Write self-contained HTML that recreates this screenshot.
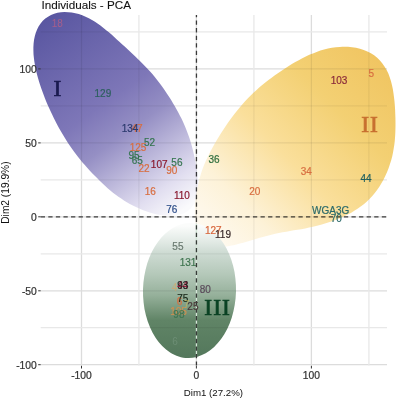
<!DOCTYPE html>
<html><head><meta charset="utf-8"><style>
html,body{margin:0;padding:0;background:#fff;overflow:hidden;}
svg{display:block;will-change:transform;}
</style></head><body>
<svg width="397" height="399" viewBox="0 0 397 399">
<defs>
<linearGradient id="g1" gradientUnits="userSpaceOnUse" x1="44" y1="14.4" x2="183.3" y2="209.6">
<stop offset="0" stop-color="#5855a0"/>
<stop offset="0.45" stop-color="#7e77b8"/>
<stop offset="0.6" stop-color="#958fc4"/>
<stop offset="0.88" stop-color="#e1def0"/>
<stop offset="1" stop-color="#fafafc"/>
</linearGradient>
<linearGradient id="g2" gradientUnits="userSpaceOnUse" x1="390" y1="60" x2="205" y2="240">
<stop offset="0" stop-color="#f0c460"/>
<stop offset="0.28" stop-color="#f3d073"/>
<stop offset="0.55" stop-color="#fadf9b"/>
<stop offset="0.8" stop-color="#fdf2d8"/><stop offset="0.92" stop-color="#fef7e8"/>
<stop offset="1" stop-color="#fffbf3"/>
</linearGradient>
<linearGradient id="g3" gradientUnits="userSpaceOnUse" x1="0" y1="226" x2="0" y2="357">
<stop offset="0" stop-color="#fbfcfb"/><stop offset="0.06" stop-color="#eef3f0"/>
<stop offset="0.12" stop-color="#e2eae5"/><stop offset="0.2" stop-color="#cfdcd4"/>
<stop offset="0.37" stop-color="#b4c8b9"/>
<stop offset="0.53" stop-color="#95b09a"/>
<stop offset="0.72" stop-color="#608466"/>
<stop offset="1" stop-color="#54785c"/>
</linearGradient>
</defs>
<clipPath id="cg"><path d="M187.7,358.0C184.7,357.9 181.6,357.4 178.7,356.4C175.8,355.5 172.8,354.1 170.1,352.4C167.3,350.6 164.7,348.4 162.2,345.9C159.8,343.4 157.4,340.5 155.4,337.4C153.3,334.2 151.5,330.7 149.9,327.0C148.3,323.3 146.9,319.3 145.9,315.2C144.8,311.1 144.0,306.8 143.6,302.5C143.1,298.2 142.9,293.7 143.0,289.3C143.1,284.9 143.6,280.4 144.3,276.1C145.0,271.9 146.0,267.6 147.2,263.6C148.5,259.5 150.1,255.6 151.8,252.0C153.6,248.4 155.7,245.0 157.9,241.9C160.1,238.9 162.6,236.1 165.1,233.7C167.7,231.3 170.5,229.3 173.3,227.7C176.2,226.1 179.2,224.9 182.2,224.1C185.2,223.3 188.2,222.9 191.3,223.0C194.3,223.1 197.4,223.6 200.3,224.6C203.2,225.5 206.2,226.9 208.9,228.6C211.7,230.4 214.3,232.6 216.8,235.1C219.2,237.6 221.6,240.5 223.6,243.6C225.7,246.8 227.5,250.3 229.1,254.0C230.7,257.7 232.1,261.7 233.1,265.8C234.2,269.9 235.0,274.2 235.4,278.5C235.9,282.8 236.1,287.3 236.0,291.7C235.9,296.1 235.4,300.6 234.7,304.9C234.0,309.1 233.0,313.4 231.8,317.4C230.5,321.5 228.9,325.4 227.2,329.0C225.4,332.6 223.3,336.0 221.1,339.1C218.9,342.1 216.4,344.9 213.9,347.3C211.3,349.7 208.5,351.7 205.7,353.3C202.8,354.9 199.8,356.1 196.8,356.9C193.8,357.7 190.8,358.1 187.7,358.0Z"/></clipPath>
<clipPath id="call"><path d="M57.5,12.7C59.8,12.2 62.2,12.0 64.6,11.9C66.9,11.9 69.4,12.1 71.8,12.5C74.1,12.8 76.5,13.4 78.8,14.1C81.2,14.8 83.4,15.7 85.6,16.7C87.8,17.7 89.9,18.8 92.0,20.0C94.0,21.1 96.0,22.4 97.9,23.8C99.8,25.1 101.7,26.5 103.5,27.9C105.3,29.4 107.1,30.8 108.9,32.3C110.7,33.8 112.4,35.4 114.2,36.9C115.9,38.5 117.7,40.1 119.4,41.7C121.2,43.3 122.9,44.9 124.7,46.5C126.5,48.2 128.2,49.8 130.0,51.5C131.8,53.1 133.5,54.8 135.3,56.4C137.0,58.1 138.7,59.8 140.4,61.4C142.1,63.1 143.7,64.8 145.3,66.5C147.0,68.2 148.5,69.9 150.1,71.6C151.6,73.3 153.1,75.0 154.6,76.8C156.0,78.6 157.5,80.4 158.9,82.2C160.3,84.0 161.7,85.9 163.0,87.8C164.4,89.7 165.7,91.7 167.0,93.7C168.4,95.6 169.7,97.7 171.0,99.7C172.2,101.8 173.5,103.9 174.7,106.0C175.9,108.1 177.1,110.3 178.3,112.4C179.4,114.5 180.5,116.7 181.6,118.8C182.6,121.0 183.6,123.1 184.5,125.3C185.5,127.4 186.3,129.5 187.1,131.7C188.0,133.8 188.7,135.9 189.4,138.1C190.1,140.2 190.8,142.3 191.4,144.5C192.0,146.7 192.6,148.9 193.1,151.1C193.7,153.4 194.2,155.7 194.7,158.0C195.2,160.3 195.6,162.7 196.0,165.2C196.5,167.6 196.8,170.1 197.1,172.6C197.4,175.1 197.7,177.7 197.8,180.2C198.0,182.7 198.0,185.3 197.9,187.7C197.8,190.2 197.5,192.6 197.1,194.9C196.6,197.2 196.0,199.4 195.2,201.3C194.4,203.3 193.3,205.2 192.1,206.8C190.8,208.4 189.4,209.9 187.7,211.0C186.1,212.2 184.2,213.2 182.1,213.9C180.1,214.7 177.9,215.2 175.6,215.5C173.3,215.8 170.9,215.8 168.4,215.8C165.9,215.7 163.4,215.4 160.9,215.0C158.4,214.6 155.8,214.0 153.3,213.4C150.9,212.8 148.4,212.0 146.1,211.2C143.7,210.4 141.4,209.5 139.2,208.5C137.0,207.6 134.9,206.6 132.8,205.5C130.8,204.5 128.8,203.4 126.8,202.2C124.9,201.1 123.0,199.9 121.2,198.6C119.3,197.4 117.5,196.0 115.7,194.7C113.9,193.3 112.1,191.9 110.3,190.4C108.5,188.9 106.7,187.3 105.0,185.7C103.2,184.1 101.4,182.4 99.7,180.7C97.9,179.1 96.2,177.3 94.5,175.6C92.8,173.8 91.1,172.0 89.4,170.2C87.8,168.4 86.2,166.6 84.6,164.8C83.0,163.0 81.5,161.2 80.1,159.4C78.6,157.6 77.2,155.8 75.8,154.0C74.4,152.2 73.1,150.4 71.8,148.5C70.5,146.6 69.2,144.8 68.0,142.9C66.7,141.0 65.5,139.0 64.3,137.1C63.1,135.1 61.9,133.1 60.7,131.0C59.5,129.0 58.4,126.8 57.2,124.7C56.1,122.6 55.0,120.4 53.9,118.2C52.8,116.0 51.7,113.8 50.7,111.6C49.7,109.4 48.7,107.2 47.7,105.0C46.8,102.8 45.8,100.6 45.0,98.4C44.1,96.2 43.3,94.0 42.5,91.8C41.7,89.7 40.9,87.5 40.2,85.3C39.5,83.1 38.8,81.0 38.2,78.8C37.6,76.6 37.0,74.4 36.4,72.1C35.9,69.9 35.4,67.6 35.0,65.2C34.5,62.9 34.1,60.5 33.9,58.1C33.6,55.7 33.4,53.2 33.4,50.8C33.3,48.3 33.4,45.8 33.6,43.4C33.8,41.0 34.2,38.5 34.8,36.2C35.4,33.8 36.1,31.5 37.1,29.4C38.1,27.3 39.2,25.3 40.6,23.5C42.0,21.6 43.5,20.0 45.3,18.6C47.0,17.1 49.0,15.9 51.0,14.9C53.0,14.0 55.3,13.2 57.5,12.7Z"/><path d="M339.9,46.9C342.6,46.7 345.3,46.7 348.0,46.8C350.7,47.0 353.4,47.3 356.0,47.8C358.7,48.3 361.3,49.0 363.7,49.9C366.2,50.8 368.6,51.9 370.9,53.2C373.1,54.5 375.2,56.0 377.2,57.7C379.1,59.4 380.9,61.3 382.4,63.4C384.0,65.4 385.4,67.7 386.6,70.0C387.9,72.3 388.9,74.9 389.8,77.4C390.7,79.9 391.4,82.6 392.0,85.3C392.7,88.0 393.1,90.7 393.5,93.4C393.9,96.1 394.2,98.9 394.5,101.6C394.8,104.3 394.9,106.9 395.1,109.6C395.2,112.3 395.3,114.9 395.4,117.5C395.5,120.1 395.5,122.7 395.5,125.3C395.5,127.8 395.4,130.4 395.3,133.0C395.2,135.6 395.0,138.1 394.8,140.7C394.5,143.3 394.2,145.9 393.7,148.5C393.3,151.1 392.8,153.8 392.2,156.4C391.5,159.0 390.8,161.7 389.9,164.3C389.1,166.9 388.1,169.5 387.1,172.0C386.0,174.5 384.8,177.1 383.6,179.5C382.3,181.9 380.9,184.2 379.5,186.5C378.0,188.7 376.5,190.9 374.8,193.0C373.2,195.0 371.5,196.9 369.7,198.8C367.9,200.6 366.0,202.4 364.1,204.0C362.1,205.6 360.0,207.1 357.9,208.6C355.8,210.0 353.6,211.4 351.3,212.7C349.0,213.9 346.6,215.1 344.2,216.3C341.8,217.4 339.3,218.5 336.7,219.5C334.2,220.5 331.5,221.4 328.9,222.3C326.3,223.1 323.6,223.9 321.0,224.7C318.3,225.4 315.7,226.1 313.0,226.7C310.4,227.3 307.8,227.8 305.2,228.4C302.6,228.9 300.1,229.3 297.5,229.8C295.0,230.2 292.5,230.6 290.0,231.0C287.6,231.5 285.1,231.9 282.6,232.3C280.2,232.8 277.7,233.3 275.2,233.8C272.7,234.4 270.2,235.0 267.6,235.7C265.1,236.3 262.5,237.1 259.8,237.8C257.1,238.6 254.4,239.4 251.6,240.3C248.8,241.1 246.0,242.0 243.2,242.8C240.4,243.5 237.5,244.3 234.7,244.9C231.9,245.5 229.0,246.1 226.4,246.4C223.7,246.7 221.0,246.9 218.6,246.7C216.1,246.6 213.7,246.3 211.6,245.6C209.5,244.9 207.5,244.0 205.7,242.8C204.0,241.6 202.5,240.0 201.1,238.2C199.8,236.5 198.7,234.4 197.9,232.1C197.0,229.9 196.3,227.4 195.8,224.8C195.3,222.2 195.1,219.4 194.9,216.6C194.8,213.8 194.8,210.8 194.9,207.9C195.0,205.1 195.3,202.1 195.6,199.3C195.9,196.5 196.3,193.6 196.8,190.9C197.3,188.2 197.8,185.5 198.5,182.9C199.1,180.3 199.8,177.8 200.5,175.3C201.2,172.9 202.1,170.5 202.9,168.1C203.8,165.8 204.7,163.4 205.8,161.1C206.8,158.8 207.9,156.5 209.0,154.2C210.2,151.9 211.4,149.6 212.7,147.3C214.0,144.9 215.3,142.6 216.7,140.3C218.1,137.9 219.6,135.6 221.0,133.3C222.5,130.9 224.1,128.6 225.6,126.3C227.2,124.0 228.7,121.8 230.3,119.6C231.9,117.3 233.5,115.2 235.2,113.1C236.8,110.9 238.5,108.9 240.1,106.9C241.8,104.9 243.5,102.9 245.3,101.0C247.0,99.1 248.8,97.3 250.7,95.5C252.5,93.7 254.4,91.9 256.3,90.2C258.2,88.4 260.2,86.7 262.2,85.1C264.3,83.4 266.3,81.7 268.5,80.1C270.6,78.5 272.7,76.9 274.9,75.3C277.1,73.7 279.4,72.2 281.6,70.7C283.8,69.1 286.1,67.7 288.4,66.2C290.7,64.8 293.0,63.4 295.3,62.1C297.6,60.7 299.9,59.5 302.3,58.2C304.6,57.0 307.0,55.9 309.3,54.8C311.7,53.8 314.2,52.8 316.6,51.9C319.1,51.0 321.6,50.2 324.1,49.6C326.7,48.9 329.3,48.3 331.9,47.8C334.5,47.4 337.2,47.1 339.9,46.9Z"/><path d="M187.7,358.0C184.7,357.9 181.6,357.4 178.7,356.4C175.8,355.5 172.8,354.1 170.1,352.4C167.3,350.6 164.7,348.4 162.2,345.9C159.8,343.4 157.4,340.5 155.4,337.4C153.3,334.2 151.5,330.7 149.9,327.0C148.3,323.3 146.9,319.3 145.9,315.2C144.8,311.1 144.0,306.8 143.6,302.5C143.1,298.2 142.9,293.7 143.0,289.3C143.1,284.9 143.6,280.4 144.3,276.1C145.0,271.9 146.0,267.6 147.2,263.6C148.5,259.5 150.1,255.6 151.8,252.0C153.6,248.4 155.7,245.0 157.9,241.9C160.1,238.9 162.6,236.1 165.1,233.7C167.7,231.3 170.5,229.3 173.3,227.7C176.2,226.1 179.2,224.9 182.2,224.1C185.2,223.3 188.2,222.9 191.3,223.0C194.3,223.1 197.4,223.6 200.3,224.6C203.2,225.5 206.2,226.9 208.9,228.6C211.7,230.4 214.3,232.6 216.8,235.1C219.2,237.6 221.6,240.5 223.6,243.6C225.7,246.8 227.5,250.3 229.1,254.0C230.7,257.7 232.1,261.7 233.1,265.8C234.2,269.9 235.0,274.2 235.4,278.5C235.9,282.8 236.1,287.3 236.0,291.7C235.9,296.1 235.4,300.6 234.7,304.9C234.0,309.1 233.0,313.4 231.8,317.4C230.5,321.5 228.9,325.4 227.2,329.0C225.4,332.6 223.3,336.0 221.1,339.1C218.9,342.1 216.4,344.9 213.9,347.3C211.3,349.7 208.5,351.7 205.7,353.3C202.8,354.9 199.8,356.1 196.8,356.9C193.8,357.7 190.8,358.1 187.7,358.0Z"/></clipPath>
<rect width="397" height="399" fill="#fff"/>
<g stroke="#dcdcdc" stroke-width="1.3"><line x1="81.5" y1="15" x2="81.5" y2="365.5"/><line x1="196.4" y1="15" x2="196.4" y2="365.5"/><line x1="311.4" y1="15" x2="311.4" y2="365.5"/><line x1="40.7" y1="68.9" x2="387" y2="68.9"/><line x1="40.7" y1="142.9" x2="387" y2="142.9"/><line x1="40.7" y1="216.8" x2="387" y2="216.8"/><line x1="40.7" y1="290.8" x2="387" y2="290.8"/><line x1="40.7" y1="364.7" x2="387" y2="364.7"/></g>
<g stroke="#e8e8e8" stroke-width="1.3"><line x1="138.9" y1="15" x2="138.9" y2="365.5"/><line x1="253.9" y1="15" x2="253.9" y2="365.5"/><line x1="368.9" y1="15" x2="368.9" y2="365.5"/><line x1="40.7" y1="31.9" x2="387" y2="31.9"/><line x1="40.7" y1="105.9" x2="387" y2="105.9"/><line x1="40.7" y1="179.8" x2="387" y2="179.8"/><line x1="40.7" y1="253.8" x2="387" y2="253.8"/><line x1="40.7" y1="327.7" x2="387" y2="327.7"/></g>
<path d="M57.5,12.7C59.8,12.2 62.2,12.0 64.6,11.9C66.9,11.9 69.4,12.1 71.8,12.5C74.1,12.8 76.5,13.4 78.8,14.1C81.2,14.8 83.4,15.7 85.6,16.7C87.8,17.7 89.9,18.8 92.0,20.0C94.0,21.1 96.0,22.4 97.9,23.8C99.8,25.1 101.7,26.5 103.5,27.9C105.3,29.4 107.1,30.8 108.9,32.3C110.7,33.8 112.4,35.4 114.2,36.9C115.9,38.5 117.7,40.1 119.4,41.7C121.2,43.3 122.9,44.9 124.7,46.5C126.5,48.2 128.2,49.8 130.0,51.5C131.8,53.1 133.5,54.8 135.3,56.4C137.0,58.1 138.7,59.8 140.4,61.4C142.1,63.1 143.7,64.8 145.3,66.5C147.0,68.2 148.5,69.9 150.1,71.6C151.6,73.3 153.1,75.0 154.6,76.8C156.0,78.6 157.5,80.4 158.9,82.2C160.3,84.0 161.7,85.9 163.0,87.8C164.4,89.7 165.7,91.7 167.0,93.7C168.4,95.6 169.7,97.7 171.0,99.7C172.2,101.8 173.5,103.9 174.7,106.0C175.9,108.1 177.1,110.3 178.3,112.4C179.4,114.5 180.5,116.7 181.6,118.8C182.6,121.0 183.6,123.1 184.5,125.3C185.5,127.4 186.3,129.5 187.1,131.7C188.0,133.8 188.7,135.9 189.4,138.1C190.1,140.2 190.8,142.3 191.4,144.5C192.0,146.7 192.6,148.9 193.1,151.1C193.7,153.4 194.2,155.7 194.7,158.0C195.2,160.3 195.6,162.7 196.0,165.2C196.5,167.6 196.8,170.1 197.1,172.6C197.4,175.1 197.7,177.7 197.8,180.2C198.0,182.7 198.0,185.3 197.9,187.7C197.8,190.2 197.5,192.6 197.1,194.9C196.6,197.2 196.0,199.4 195.2,201.3C194.4,203.3 193.3,205.2 192.1,206.8C190.8,208.4 189.4,209.9 187.7,211.0C186.1,212.2 184.2,213.2 182.1,213.9C180.1,214.7 177.9,215.2 175.6,215.5C173.3,215.8 170.9,215.8 168.4,215.8C165.9,215.7 163.4,215.4 160.9,215.0C158.4,214.6 155.8,214.0 153.3,213.4C150.9,212.8 148.4,212.0 146.1,211.2C143.7,210.4 141.4,209.5 139.2,208.5C137.0,207.6 134.9,206.6 132.8,205.5C130.8,204.5 128.8,203.4 126.8,202.2C124.9,201.1 123.0,199.9 121.2,198.6C119.3,197.4 117.5,196.0 115.7,194.7C113.9,193.3 112.1,191.9 110.3,190.4C108.5,188.9 106.7,187.3 105.0,185.7C103.2,184.1 101.4,182.4 99.7,180.7C97.9,179.1 96.2,177.3 94.5,175.6C92.8,173.8 91.1,172.0 89.4,170.2C87.8,168.4 86.2,166.6 84.6,164.8C83.0,163.0 81.5,161.2 80.1,159.4C78.6,157.6 77.2,155.8 75.8,154.0C74.4,152.2 73.1,150.4 71.8,148.5C70.5,146.6 69.2,144.8 68.0,142.9C66.7,141.0 65.5,139.0 64.3,137.1C63.1,135.1 61.9,133.1 60.7,131.0C59.5,129.0 58.4,126.8 57.2,124.7C56.1,122.6 55.0,120.4 53.9,118.2C52.8,116.0 51.7,113.8 50.7,111.6C49.7,109.4 48.7,107.2 47.7,105.0C46.8,102.8 45.8,100.6 45.0,98.4C44.1,96.2 43.3,94.0 42.5,91.8C41.7,89.7 40.9,87.5 40.2,85.3C39.5,83.1 38.8,81.0 38.2,78.8C37.6,76.6 37.0,74.4 36.4,72.1C35.9,69.9 35.4,67.6 35.0,65.2C34.5,62.9 34.1,60.5 33.9,58.1C33.6,55.7 33.4,53.2 33.4,50.8C33.3,48.3 33.4,45.8 33.6,43.4C33.8,41.0 34.2,38.5 34.8,36.2C35.4,33.8 36.1,31.5 37.1,29.4C38.1,27.3 39.2,25.3 40.6,23.5C42.0,21.6 43.5,20.0 45.3,18.6C47.0,17.1 49.0,15.9 51.0,14.9C53.0,14.0 55.3,13.2 57.5,12.7Z" fill="url(#g1)"/>
<path d="M339.9,46.9C342.6,46.7 345.3,46.7 348.0,46.8C350.7,47.0 353.4,47.3 356.0,47.8C358.7,48.3 361.3,49.0 363.7,49.9C366.2,50.8 368.6,51.9 370.9,53.2C373.1,54.5 375.2,56.0 377.2,57.7C379.1,59.4 380.9,61.3 382.4,63.4C384.0,65.4 385.4,67.7 386.6,70.0C387.9,72.3 388.9,74.9 389.8,77.4C390.7,79.9 391.4,82.6 392.0,85.3C392.7,88.0 393.1,90.7 393.5,93.4C393.9,96.1 394.2,98.9 394.5,101.6C394.8,104.3 394.9,106.9 395.1,109.6C395.2,112.3 395.3,114.9 395.4,117.5C395.5,120.1 395.5,122.7 395.5,125.3C395.5,127.8 395.4,130.4 395.3,133.0C395.2,135.6 395.0,138.1 394.8,140.7C394.5,143.3 394.2,145.9 393.7,148.5C393.3,151.1 392.8,153.8 392.2,156.4C391.5,159.0 390.8,161.7 389.9,164.3C389.1,166.9 388.1,169.5 387.1,172.0C386.0,174.5 384.8,177.1 383.6,179.5C382.3,181.9 380.9,184.2 379.5,186.5C378.0,188.7 376.5,190.9 374.8,193.0C373.2,195.0 371.5,196.9 369.7,198.8C367.9,200.6 366.0,202.4 364.1,204.0C362.1,205.6 360.0,207.1 357.9,208.6C355.8,210.0 353.6,211.4 351.3,212.7C349.0,213.9 346.6,215.1 344.2,216.3C341.8,217.4 339.3,218.5 336.7,219.5C334.2,220.5 331.5,221.4 328.9,222.3C326.3,223.1 323.6,223.9 321.0,224.7C318.3,225.4 315.7,226.1 313.0,226.7C310.4,227.3 307.8,227.8 305.2,228.4C302.6,228.9 300.1,229.3 297.5,229.8C295.0,230.2 292.5,230.6 290.0,231.0C287.6,231.5 285.1,231.9 282.6,232.3C280.2,232.8 277.7,233.3 275.2,233.8C272.7,234.4 270.2,235.0 267.6,235.7C265.1,236.3 262.5,237.1 259.8,237.8C257.1,238.6 254.4,239.4 251.6,240.3C248.8,241.1 246.0,242.0 243.2,242.8C240.4,243.5 237.5,244.3 234.7,244.9C231.9,245.5 229.0,246.1 226.4,246.4C223.7,246.7 221.0,246.9 218.6,246.7C216.1,246.6 213.7,246.3 211.6,245.6C209.5,244.9 207.5,244.0 205.7,242.8C204.0,241.6 202.5,240.0 201.1,238.2C199.8,236.5 198.7,234.4 197.9,232.1C197.0,229.9 196.3,227.4 195.8,224.8C195.3,222.2 195.1,219.4 194.9,216.6C194.8,213.8 194.8,210.8 194.9,207.9C195.0,205.1 195.3,202.1 195.6,199.3C195.9,196.5 196.3,193.6 196.8,190.9C197.3,188.2 197.8,185.5 198.5,182.9C199.1,180.3 199.8,177.8 200.5,175.3C201.2,172.9 202.1,170.5 202.9,168.1C203.8,165.8 204.7,163.4 205.8,161.1C206.8,158.8 207.9,156.5 209.0,154.2C210.2,151.9 211.4,149.6 212.7,147.3C214.0,144.9 215.3,142.6 216.7,140.3C218.1,137.9 219.6,135.6 221.0,133.3C222.5,130.9 224.1,128.6 225.6,126.3C227.2,124.0 228.7,121.8 230.3,119.6C231.9,117.3 233.5,115.2 235.2,113.1C236.8,110.9 238.5,108.9 240.1,106.9C241.8,104.9 243.5,102.9 245.3,101.0C247.0,99.1 248.8,97.3 250.7,95.5C252.5,93.7 254.4,91.9 256.3,90.2C258.2,88.4 260.2,86.7 262.2,85.1C264.3,83.4 266.3,81.7 268.5,80.1C270.6,78.5 272.7,76.9 274.9,75.3C277.1,73.7 279.4,72.2 281.6,70.7C283.8,69.1 286.1,67.7 288.4,66.2C290.7,64.8 293.0,63.4 295.3,62.1C297.6,60.7 299.9,59.5 302.3,58.2C304.6,57.0 307.0,55.9 309.3,54.8C311.7,53.8 314.2,52.8 316.6,51.9C319.1,51.0 321.6,50.2 324.1,49.6C326.7,48.9 329.3,48.3 331.9,47.8C334.5,47.4 337.2,47.1 339.9,46.9Z" fill="url(#g2)"/>
<path d="M187.7,358.0C184.7,357.9 181.6,357.4 178.7,356.4C175.8,355.5 172.8,354.1 170.1,352.4C167.3,350.6 164.7,348.4 162.2,345.9C159.8,343.4 157.4,340.5 155.4,337.4C153.3,334.2 151.5,330.7 149.9,327.0C148.3,323.3 146.9,319.3 145.9,315.2C144.8,311.1 144.0,306.8 143.6,302.5C143.1,298.2 142.9,293.7 143.0,289.3C143.1,284.9 143.6,280.4 144.3,276.1C145.0,271.9 146.0,267.6 147.2,263.6C148.5,259.5 150.1,255.6 151.8,252.0C153.6,248.4 155.7,245.0 157.9,241.9C160.1,238.9 162.6,236.1 165.1,233.7C167.7,231.3 170.5,229.3 173.3,227.7C176.2,226.1 179.2,224.9 182.2,224.1C185.2,223.3 188.2,222.9 191.3,223.0C194.3,223.1 197.4,223.6 200.3,224.6C203.2,225.5 206.2,226.9 208.9,228.6C211.7,230.4 214.3,232.6 216.8,235.1C219.2,237.6 221.6,240.5 223.6,243.6C225.7,246.8 227.5,250.3 229.1,254.0C230.7,257.7 232.1,261.7 233.1,265.8C234.2,269.9 235.0,274.2 235.4,278.5C235.9,282.8 236.1,287.3 236.0,291.7C235.9,296.1 235.4,300.6 234.7,304.9C234.0,309.1 233.0,313.4 231.8,317.4C230.5,321.5 228.9,325.4 227.2,329.0C225.4,332.6 223.3,336.0 221.1,339.1C218.9,342.1 216.4,344.9 213.9,347.3C211.3,349.7 208.5,351.7 205.7,353.3C202.8,354.9 199.8,356.1 196.8,356.9C193.8,357.7 190.8,358.1 187.7,358.0Z" fill="url(#g3)"/>
<g clip-path="url(#call)">
<g stroke="#000" stroke-opacity="0.075" stroke-width="1.3"><line x1="81.5" y1="15" x2="81.5" y2="365.5"/><line x1="196.4" y1="15" x2="196.4" y2="365.5"/><line x1="311.4" y1="15" x2="311.4" y2="365.5"/><line x1="40.7" y1="68.9" x2="387" y2="68.9"/><line x1="40.7" y1="142.9" x2="387" y2="142.9"/><line x1="40.7" y1="216.8" x2="387" y2="216.8"/><line x1="40.7" y1="290.8" x2="387" y2="290.8"/><line x1="40.7" y1="364.7" x2="387" y2="364.7"/></g>
<g stroke="#000" stroke-opacity="0.055" stroke-width="1.3"><line x1="138.9" y1="15" x2="138.9" y2="365.5"/><line x1="253.9" y1="15" x2="253.9" y2="365.5"/><line x1="368.9" y1="15" x2="368.9" y2="365.5"/><line x1="40.7" y1="31.9" x2="387" y2="31.9"/><line x1="40.7" y1="105.9" x2="387" y2="105.9"/><line x1="40.7" y1="179.8" x2="387" y2="179.8"/><line x1="40.7" y1="253.8" x2="387" y2="253.8"/><line x1="40.7" y1="327.7" x2="387" y2="327.7"/></g>
</g>
<g clip-path="url(#cg)" stroke="#d4e6d8" stroke-width="1.3"><line x1="196.45" y1="15" x2="196.45" y2="365.5"/><line x1="40.7" y1="216.8" x2="387" y2="216.8"/></g>
<g stroke="#000" stroke-opacity="0.74" stroke-width="1.3" stroke-dasharray="4.3 3.28">
<line x1="196.45" y1="15" x2="196.45" y2="365.5" stroke-dashoffset="2.08"/>
<line x1="40.7" y1="216.8" x2="387" y2="216.8"/>
</g>
<g font-family="&quot;Liberation Sans&quot;, sans-serif" font-size="10" text-anchor="middle" transform="translate(0 0.3)" stroke-width="0.2"><text x="102.9" y="96.3" fill="#2d5f5f" stroke="#2d5f5f">129</text><text x="137" y="132" fill="#d86e40" stroke="#d86e40">47</text><text x="130" y="132" fill="#2c3a6e" stroke="#2c3a6e">134</text><text x="149.5" y="145.3" fill="#357550" stroke="#357550">52</text><text x="138" y="150.8" fill="#d86e40" stroke="#d86e40">125</text><text x="134" y="159" fill="#357550" stroke="#357550">95</text><text x="137.2" y="163.4" fill="#357550" stroke="#357550">65</text><text x="144" y="171.7" fill="#d86e40" stroke="#d86e40">22</text><text x="159.2" y="167.4" fill="#8a1a30" stroke="#8a1a30">107</text><text x="176.9" y="166" fill="#357550" stroke="#357550">56</text><text x="171.8" y="174.2" fill="#d86e40" stroke="#d86e40">90</text><text x="150.3" y="194.4" fill="#d86e40" stroke="#d86e40">16</text><text x="181.9" y="198.8" fill="#8a1a30" stroke="#8a1a30">110</text><text x="171.8" y="213" fill="#2f4f8a" stroke="#2f4f8a">76</text><text x="214.1" y="163.2" fill="#2e6e3e" stroke="#2e6e3e">36</text><text x="254.7" y="195" fill="#d86e40" stroke="#d86e40">20</text><text x="306.2" y="174.7" fill="#d86e40" stroke="#d86e40">34</text><text x="366" y="182.2" fill="#1f5f5f" stroke="#1f5f5f">44</text><text x="330.7" y="214" fill="#2a6a6a" stroke="#2a6a6a">WGA3G</text><text x="336.2" y="221.7" fill="#2a6a6a" stroke="#2a6a6a">70</text><text x="339" y="83.6" fill="#8a2a3a" stroke="#8a2a3a">103</text><text x="371.3" y="76.7" fill="#d86e40" stroke="#d86e40">5</text><text x="213.3" y="233.7" fill="#d8663c" stroke="#d8663c">127</text><text x="223" y="237.5" fill="#3a2a2a" stroke="#3a2a2a">119</text><text x="177.9" y="249.8" fill="#6a7a70" stroke="#6a7a70">55</text><text x="188" y="265.3" fill="#3f7550" stroke="#3f7550">131</text><text x="205.3" y="292.4" fill="#5a4a5a" stroke="#5a4a5a">80</text><text x="182.7" y="289" fill="#a02040" stroke="#a02040">44</text><text x="182.7" y="289" fill="#202020" stroke="#202020">93</text><text x="179.6" y="304.5" fill="#d86e40" stroke="#d86e40">6</text><text x="182.7" y="301.4" fill="#1a2a1a" stroke="#1a2a1a">75</text><text x="192.9" y="309.7" fill="#4a3a3a" stroke="#4a3a3a">25</text><text x="178.5" y="314.3" fill="#d09050" stroke="#d09050">105</text><text x="178.9" y="318" fill="#3f7550" stroke="#3f7550">98</text></g>
<g font-family="&quot;Liberation Sans&quot;, sans-serif" font-size="10" text-anchor="middle"><text x="57.2" y="27.2" fill="#d8607a" fill-opacity="0.6">18</text><text x="175" y="345.3" fill="#7a9a82" fill-opacity="0.6">6</text><text x="174.5" y="291" fill="#e8a050" fill-opacity="0.55">4</text><text x="186.5" y="308" fill="#d8c050" fill-opacity="0.6">7</text></g>
<g font-family="&quot;Liberation Serif&quot;, serif" font-size="23.5" text-anchor="middle" stroke-width="0.7">
<text x="57.5" y="96.3" fill="#1a1a50" stroke="#1a1a50">I</text>
<text x="370" y="131.9" fill="#c87030" stroke="#c87030" letter-spacing="0.8">II</text>
<text x="217.6" y="315.3" fill="#0b4224" stroke="#0b4224" letter-spacing="1">III</text>
</g>
<g stroke="#333" stroke-width="1">
<line x1="38.2" y1="68.9" x2="40.7" y2="68.9"/><line x1="38.2" y1="142.9" x2="40.7" y2="142.9"/><line x1="38.2" y1="216.8" x2="40.7" y2="216.8"/><line x1="38.2" y1="290.8" x2="40.7" y2="290.8"/><line x1="38.2" y1="364.7" x2="40.7" y2="364.7"/><line x1="81.5" y1="365.8" x2="81.5" y2="368.5"/><line x1="196.4" y1="365.8" x2="196.4" y2="368.5"/><line x1="311.4" y1="365.8" x2="311.4" y2="368.5"/></g>
<g font-family="&quot;Liberation Sans&quot;, sans-serif" font-size="10.3" fill="#333" stroke="#333" stroke-width="0.22"><text x="36.8" y="73.3" text-anchor="end">100</text><text x="36.8" y="147.3" text-anchor="end">50</text><text x="36.8" y="221.2" text-anchor="end">0</text><text x="36.8" y="295.1" text-anchor="end">-50</text><text x="36.8" y="369.1" text-anchor="end">-100</text><text x="81.5" y="378.6" text-anchor="middle">-100</text><text x="196.4" y="378.6" text-anchor="middle">0</text><text x="311.4" y="378.6" text-anchor="middle">100</text></g>
<text x="41.4" y="9.3" font-family="&quot;Liberation Sans&quot;, sans-serif" font-size="11.7" fill="#111" stroke="#111" stroke-width="0.08">Individuals - PCA</text>
<text x="213.4" y="396.4" font-family="&quot;Liberation Sans&quot;, sans-serif" font-size="9.7" fill="#111" text-anchor="middle">Dim1 (27.2%)</text>
<text transform="translate(9.3 192.6) rotate(-90)" font-family="&quot;Liberation Sans&quot;, sans-serif" font-size="10.2" fill="#111" text-anchor="middle">Dim2 (19.9%)</text>
</svg>
</body></html>
